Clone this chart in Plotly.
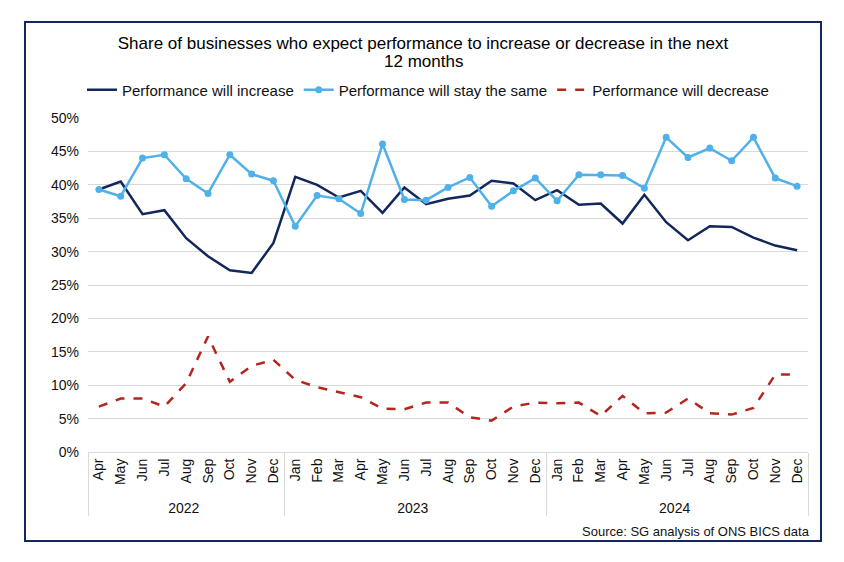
import plotly.graph_objects as go

years = ["2022"] * 9 + ["2023"] * 12 + ["2024"] * 12
month_names = ["Jan", "Feb", "Mar", "Apr", "May", "Jun", "Jul", "Aug", "Sep", "Oct", "Nov", "Dec"]
months = month_names[3:] + month_names + month_names

increase = [39.3, 40.5, 35.6, 36.2, 32.0, 29.3, 27.2, 26.8, 31.3,
            41.2, 40.0, 38.1, 39.1, 35.8, 39.6, 37.1, 37.9, 38.4, 40.6, 40.2, 37.7,
            39.2, 37.0, 37.2, 34.2, 38.5, 34.4, 31.7, 33.8, 33.7, 32.1, 30.9, 30.2]
same = [39.3, 38.3, 44.0, 44.5, 40.9, 38.7, 44.5, 41.6, 40.6,
        33.8, 38.4, 37.9, 35.7, 46.1, 37.8, 37.7, 39.6, 41.1, 36.8, 39.1, 41.0,
        37.6, 41.5, 41.5, 41.4, 39.5, 47.1, 44.1, 45.5, 43.6, 47.1, 41.0, 39.8]
decrease = [6.8, 8.0, 8.0, 6.8, 10.3, 17.3, 10.5, 12.9, 13.8,
            10.8, 9.7, 9.0, 8.2, 6.5, 6.4, 7.4, 7.4, 5.2, 4.7, 6.8, 7.4,
            7.3, 7.4, 5.4, 8.4, 5.8, 5.9, 8.0, 5.8, 5.6, 6.6, 11.6, 11.6]

y_ticks = [0, 5, 10, 15, 20, 25, 30, 35, 40, 45, 50]
y_ticklabels = [f"{v}%" for v in y_ticks]

FONT = "Arial, Liberation Sans, sans-serif"
NAVY = "#12275C"
LBLUE = "#4FB1E8"
RED = "#B3261E"

# Figure geometry (page body adds an 8px offset)
W, H = 828, 546
PL, PR, PT, PB = 80, 800, 110, 444   # plot area in figure pixels
PW, PH = PR - PL, PB - PT

def px(xp):
    return (xp - PL) / PW

def py(yp):
    return (PB - yp) / PH

# Keep month labels unique per year (invisible zero-width suffix) so the
# multicategory axis keeps chronological order within each year.
year_list = ["2022", "2023", "2024"]
inner = [m + "\u200b" * year_list.index(y) for y, m in zip(years, months)]
x = [years, inner]

fig = go.Figure()
fig.add_trace(go.Scatter(x=x, y=increase, name="Performance will increase",
                         mode="lines", line=dict(color=NAVY, width=2.5)))
fig.add_trace(go.Scatter(x=x, y=same, name="Performance will stay the same",
                         mode="lines+markers", line=dict(color=LBLUE, width=2.5),
                         marker=dict(color=LBLUE, size=7)))
fig.add_trace(go.Scatter(x=x, y=decrease, name="Performance will decrease",
                         mode="lines", line=dict(color=RED, width=2.5, dash="dash")))

fig.update_layout(
    width=W, height=H,
    margin=dict(l=PL, r=W - PR, t=PT, b=H - PB, autoexpand=False),
    paper_bgcolor="white", plot_bgcolor="white",
    font=dict(family=FONT, color="#111", size=13),
    title=dict(text="Share of businesses who expect performance to increase or decrease in the next",
               x=415 / W, xanchor="center", xref="container",
               y=1 - 35 / H, yanchor="middle", yref="container",
               font=dict(size=17, family=FONT, color="#000")),
    legend=dict(orientation="h", x=420 / W, xanchor="center", xref="container",
                y=1 - 82 / H, yanchor="middle", yref="container",
                font=dict(size=15, family=FONT, color="#111"),
                itemwidth=30, traceorder="normal"),
    showlegend=True,
)

fig.add_annotation(text="12 months", xref="paper", yref="paper",
                   x=px(415), xanchor="center", y=py(53), yanchor="middle",
                   showarrow=False, font=dict(size=17, family=FONT, color="#000"))

fig.update_yaxes(range=[0, 50], tickvals=y_ticks, ticktext=y_ticklabels,
                 showgrid=True, gridcolor="#d9d9d9", gridwidth=1,
                 zeroline=False, showline=False, ticks="", automargin=False,
                 ticklabelstandoff=8,
                 tickfont=dict(size=14, family=FONT, color="#111"))
fig.update_xaxes(type="multicategory", tickangle=-90, showgrid=False,
                 range=[-0.5, len(months) - 0.5],
                 showline=True, linecolor="#d9d9d9", linewidth=1,
                 showdividers=True, dividercolor="#d9d9d9", dividerwidth=1,
                 ticks="", automargin=False,
                 tickfont=dict(size=14, family=FONT, color="#111"))

# outer frame
fig.add_shape(type="rect", xref="paper", yref="paper",
              x0=px(17), x1=px(813), y0=py(533), y1=py(14),
              line=dict(color=NAVY, width=2), fillcolor="rgba(0,0,0,0)", layer="above")

fig.add_annotation(text="Source: SG analysis of ONS BICS data", xref="paper", yref="paper",
                   x=px(804), xanchor="right", y=py(523), yanchor="middle",
                   showarrow=False, font=dict(size=13, family=FONT, color="#111"))

fig.write_html("out.html")
